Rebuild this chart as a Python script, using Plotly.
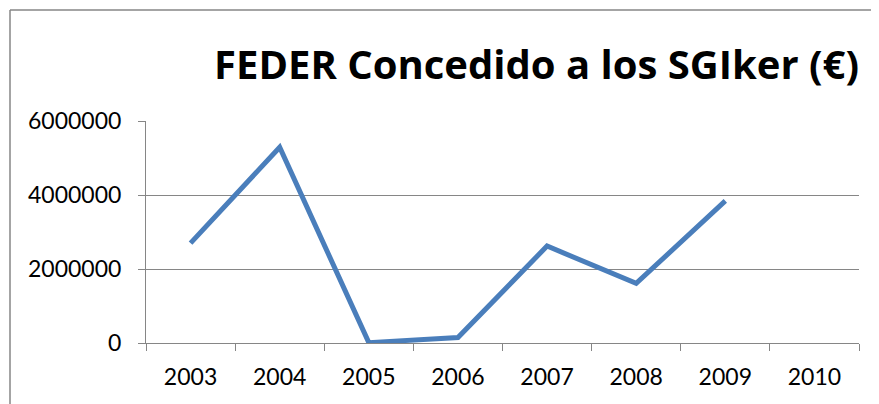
import plotly.graph_objects as go

years = ["2003", "2004", "2005", "2006", "2007", "2008", "2009", "2010"]
feder = [2700000, 5290000, 10000, 150000, 2620000, 1610000, 3840000, None]
y_ticks = [0, 2000000, 4000000, 6000000]
title_text = "FEDER Concedido a los SGIker (€)"

# page body has an 8px margin; compensate so the plot lands where the reference has it
OFF = 8
W, H = 879 - OFF, 404 - OFF
L, R, T, B = 146 - OFF, 20, 121 - OFF, 61
pw = W - L - R
ph = H - T - B


def px_x(page_x):
    return (page_x - OFF - L) / pw


def px_y(page_y):
    return (H - B - (page_y - OFF)) / ph


fig = go.Figure()
fig.add_trace(go.Scatter(
    x=years, y=feder, mode="lines",
    line=dict(color="#4A7EBB", width=5),
    connectgaps=False, hoverinfo="x+y",
))

gray = "#868686"
fig.update_layout(
    width=W, height=H,
    margin=dict(l=L, r=R, t=T, b=B),
    paper_bgcolor="white", plot_bgcolor="white",
    showlegend=False,
    font=dict(family="Lato, Open Sans, sans-serif", color="black", size=23),
    title=dict(
        text="<b>" + title_text + "</b>",
        font=dict(family="Open Sans, Lato, sans-serif", size=40, color="black"),
        xref="paper", x=1.0, xanchor="right",
        yref="container", y=1 - (65 - OFF) / H, yanchor="middle",
    ),
    xaxis=dict(
        type="category", range=[-0.5, 7.5],
        showgrid=False, showline=True, linecolor=gray, linewidth=1,
        ticks="outside", ticklen=7, tickcolor=gray, tickwidth=1,
        tickson="boundaries", tickfont=dict(size=23),
        ticklabelstandoff=13,
        zeroline=False, fixedrange=True,
    ),
    yaxis=dict(
        range=[0, 6000000], tickvals=y_ticks,
        ticktext=[str(v) for v in y_ticks],
        showgrid=True, gridcolor=gray, gridwidth=1,
        showline=True, linecolor=gray, linewidth=1,
        ticks="outside", ticklen=7, tickcolor=gray, tickwidth=1,
        ticklabelstandoff=12, tickfont=dict(size=23),
        zeroline=False, fixedrange=True,
    ),
)

# outer chart border: top and left edges only (others lie outside the window)
border = dict(color=gray, width=1.5)
fig.add_shape(type="line", xref="paper", yref="paper",
              x0=px_x(10), x1=px_x(900), y0=px_y(10), y1=px_y(10),
              line=border, layer="below")
fig.add_shape(type="line", xref="paper", yref="paper",
              x0=px_x(10), x1=px_x(10), y0=px_y(10), y1=px_y(420),
              line=border, layer="below")

fig.write_html("out.html")
